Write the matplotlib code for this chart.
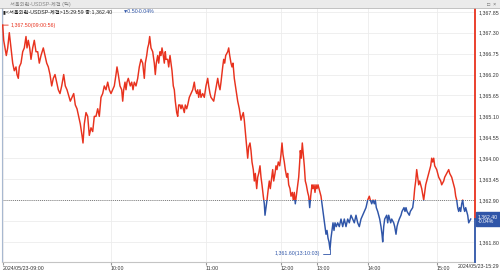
import matplotlib
matplotlib.use('Agg')
import matplotlib.pyplot as plt
from matplotlib.patches import Rectangle
from matplotlib.ticker import FuncFormatter

plt.rcParams['font.family'] = ['Liberation Sans', 'Noto Sans CJK KR', 'DejaVu Sans']

# trade sequence number (x position on the tick chart) and traded price
seq = [
    # 09:00 - 10:00
    1.7, 2.7, 4, 5.3, 6.7, 8.3, 10, 11.7, 13.3, 15, 16, 17.3, 18.3, 20, 21.7, 23.3, 25, 26, 27.3, 28.7,
    30, 31.7, 33.3, 35, 36.7, 38.3, 40, 42.3, 44, 45.7, 47.3, 49, 50.7, 52.3, 54, 55.7, 57.3, 59, 60.7, 62.7,
    64.3, 66, 69.3, 71, 72.7, 74.3, 76, 77.7, 79.3, 81, 82, 83.3, 85, 86.7, 88.3, 90, 91.7, 93.3, 95, 96.7,
    98.3, 100, 101.7, 103.3, 105, 106.7, 108.3,
    # 10:00 - 11:00
    110, 111.7, 113.3, 115, 116, 117.3, 119, 120.7, 121.7, 122.7, 124, 125, 126, 127.3, 129.3, 130.7, 132, 133.3, 135, 136.7,
    138.3, 140, 141.7, 143.3, 144.3, 145.7, 146.7, 147.7, 148.7, 150, 151.7, 153.3, 154.3, 155.3, 156.7, 157.7, 159, 160, 161, 162.3,
    163.3, 164.3, 165, 166.7, 167.7, 169, 170, 171, 172.3, 173.3, 174.3, 175.7, 176.7, 177.7, 179, 180, 181, 182.3, 183.3, 184.3,
    185.7, 186.7, 188.3, 190, 191.7, 193.3, 194.3, 195.7, 196.7, 197.7, 199, 200, 201.7, 203.3,
    # 11:00 - 12:00
    205, 206.7, 207.7, 209, 210, 212.7, 214, 215.3, 216.7, 218, 219, 220, 221.7, 222.7, 223.7, 224.7, 226.7, 227.7, 228.7, 230,
    231, 232, 233.3, 235, 236.7, 238.3, 240,
    241, 242.3, 243.3, 244.3, 245.3, 246.7, 247.7, 249, 250, 251, 252.3, 253.3, 254.3, 255.7, 256.7, 257.7, 259, 260, 261, 262.3,
    263.3, 264, 265, 266, 267.3, 268.3, 269.3, 270.7, 271.7, 272.7, 274, 275, 276, 277.3, 278.7,
    # 12:00 - 13:00
    280, 281, 282, 283.3, 284.3, 285.7, 286.7, 287.7, 289, 290, 291.3, 292.3, 293.3, 294.3, 295.3, 296.7, 297.7, 298.7, 299.3, 300.3,
    301.3, 302.3, 303.3, 304.3, 305.3, 306.7, 307.7, 308.7, 309.7, 311, 312, 313, 314, 315,
    # 13:00 - 14:00
    316, 317, 318, 319, 320, 321, 322, 323, 324, 325, 326, 327, 328, 329, 330, 331, 332, 333, 334, 335.3,
    336.7, 338.3, 340,
    341.7, 343.3, 345, 346.7, 348.3, 350, 351.7, 353.3, 355, 356.7, 358.3, 360, 361.7, 363.3, 365,
    # 14:00 - 15:00
    366.7, 368.3, 369.3, 370.7, 372, 373.3, 374.3, 375.3, 376.7, 378.7, 380, 381, 381.7, 382.7, 383.7, 385.7, 386.7, 387.7, 388.7, 389.7,
    390.7, 392.7, 393.7, 395, 396, 397, 398.3, 400, 401, 403, 404, 405, 406, 408.3, 409.3, 411.7, 412.7, 413.7, 414.7, 415.7,
    416.7, 417.7, 418.7, 419.7, 420.7, 422, 422.7, 423.7, 424.7, 426.7, 427.7, 428.7, 429.7, 430.7, 431.7, 432.7, 433.7,
    # 15:00 - 15:29
    435.7, 436.7, 437.7, 439.7, 440.7, 442.7, 443.7, 445.7, 447.7, 448.7, 450.7, 452.7, 453.7, 454.7, 455.7, 456.7, 457.7, 458.7,
    459.7, 460.7, 461.7, 462.7, 463.7, 464.7, 465.7, 466.7, 467.7, 469.7,
]
price = [
    1367.5, 1367.1, 1366.9, 1366.7, 1366.9, 1367.3, 1366.9, 1366.5, 1366.3, 1366.4, 1366.2, 1366.1, 1366.4, 1366.5, 1366.8, 1366.9, 1367.2, 1366.9, 1367.1, 1366.9,
    1366.6, 1366.9, 1367.1, 1366.8, 1366.8, 1366.5, 1366.7, 1366.9, 1366.7, 1366.5, 1366.4, 1366.2, 1365.9, 1366.1, 1366.2, 1366.0, 1365.8, 1365.7, 1365.9, 1366.2,
    1365.9, 1365.8, 1365.5, 1365.6, 1365.7, 1365.4, 1365.3, 1365.1, 1364.9, 1364.6, 1364.4, 1364.9, 1365.2, 1365.1, 1364.6, 1364.8, 1364.7, 1365.1, 1365.1, 1365.3,
    1365.1, 1365.6, 1365.7, 1365.9, 1365.8, 1366.0, 1365.8,
    1365.7, 1365.8, 1365.9, 1366.2, 1366.4, 1366.2, 1365.9, 1365.8, 1365.5, 1365.8, 1366.0, 1365.8, 1366.0, 1366.1, 1365.9, 1366.0, 1365.8, 1366.0, 1365.9, 1366.1,
    1366.4, 1366.6, 1366.5, 1366.1, 1366.5, 1366.7, 1366.9, 1367.0, 1367.2, 1366.9, 1366.8, 1366.5, 1366.2, 1366.5, 1366.7, 1366.5, 1366.8, 1366.7, 1366.9, 1366.7,
    1366.5, 1366.8, 1366.6, 1366.6, 1366.4, 1366.7, 1366.5, 1366.3, 1365.9, 1365.8, 1365.5, 1365.2, 1365.1, 1365.4, 1365.4, 1365.3, 1365.4, 1365.3, 1365.2, 1365.4,
    1365.3, 1365.4, 1365.6, 1365.7, 1365.8, 1366.0, 1365.8, 1365.7, 1365.8, 1365.6, 1365.8, 1365.6, 1365.7, 1365.6,
    1365.9, 1366.1, 1365.9, 1365.7, 1365.6, 1365.5, 1365.7, 1365.9, 1366.1, 1365.9, 1365.8, 1366.0, 1366.4, 1366.6, 1366.5, 1366.7, 1366.8, 1366.9, 1366.7, 1366.5,
    1366.4, 1366.5, 1366.1, 1365.8, 1365.5, 1365.3, 1365.0,
    1365.1, 1365.2, 1365.0, 1364.7, 1364.4, 1364.0, 1364.3, 1364.4, 1364.2, 1363.9, 1363.7, 1363.4, 1363.6, 1363.2, 1363.5, 1363.6, 1363.8, 1363.5, 1363.3, 1363.0,
    1362.8, 1362.5, 1362.7, 1362.9, 1363.2, 1363.4, 1363.2, 1363.5, 1363.7, 1363.4, 1363.6, 1363.8, 1363.7, 1363.9, 1363.8,
    1364.1, 1364.4, 1364.1, 1363.9, 1363.7, 1363.5, 1363.6, 1363.3, 1363.2, 1363.0, 1363.1, 1362.9, 1363.1, 1362.8, 1363.0, 1363.3, 1363.5, 1363.9, 1364.2, 1364.0,
    1364.4, 1364.1, 1363.8, 1363.4, 1363.3, 1363.1, 1363.0, 1362.7, 1363.0, 1363.3, 1363.2, 1363.3, 1363.1, 1363.3,
    1363.2, 1363.3, 1363.2, 1363.1, 1363.0, 1362.8, 1362.6, 1362.4, 1362.2, 1362.0, 1362.1, 1361.9, 1361.8, 1361.6, 1361.9, 1362.1, 1362.3, 1362.1, 1362.3, 1362.2,
    1362.3, 1362.2, 1362.4,
    1362.2, 1362.4, 1362.2, 1362.4, 1362.3, 1362.5, 1362.4, 1362.3, 1362.5, 1362.3, 1362.2, 1362.4, 1362.5, 1362.6, 1362.7,
    1362.9, 1363.0, 1362.9, 1362.8, 1362.9, 1362.8, 1362.9, 1362.7, 1362.6, 1362.4, 1362.2, 1362.0, 1361.8, 1362.2, 1362.4, 1362.5, 1362.3, 1362.5, 1362.4, 1362.3,
    1362.4, 1362.3, 1362.2, 1362.0, 1362.2, 1362.3, 1362.4, 1362.5, 1362.6, 1362.7, 1362.6, 1362.7, 1362.6, 1362.5, 1362.6, 1362.7, 1362.9, 1363.2, 1363.4, 1363.7,
    1363.5, 1363.3, 1363.4, 1363.3, 1363.2, 1363.0, 1362.9, 1363.1, 1363.3, 1363.5, 1363.6, 1363.7, 1363.8, 1364.0, 1363.9, 1364.0, 1363.8,
    1363.7, 1363.6, 1363.5, 1363.4, 1363.3, 1363.4, 1363.5, 1363.6, 1363.7, 1363.6, 1363.5, 1363.3, 1363.2, 1363.0, 1362.9, 1362.7, 1362.6, 1362.7,
    1362.6, 1362.8, 1362.9, 1362.7, 1362.6, 1362.7, 1362.6, 1362.5, 1362.3, 1362.4,
]

ref_price = 1362.90      # dotted reference level, colour switch
last_price = 1362.40
change = '▼0.50'
change_pct = '-0.04%'
max_time = '09:00:56'
min_time = '13:10:03'
time_ticks = [1.7, 110, 205, 280, 316, 366.7, 435.7]
time_labels = ['2024/05/23-09:00', '10:00', '11:00', '12:00', '13:00', '14:00', '15:00']
end_label = '2024/05/23-15:29'
y_ticks = [1361.80, 1362.35, 1362.90, 1363.45, 1364.00, 1364.55,
           1365.10, 1365.65, 1366.20, 1366.75, 1367.30, 1367.85]
hidden_tick = 1362.35    # covered by the last-price box

RED = '#e8321e'
BLUE = '#2f55a8'
FS = 3.8
W, H = 500, 271

fig = plt.figure(figsize=(W / 100, H / 100), dpi=100)
ax = fig.add_axes([2 / W, 9 / H, 473 / W, 254 / H])
x0, x1 = 1, 474
y0, y1 = 1361.27, 1367.95
ax.set_xlim(x0, x1)
ax.set_ylim(y0, y1)

# grid
ax.set_yticks(y_ticks)
ax.set_xticks(time_ticks, time_labels)
ax.grid(True, color='#ececec', lw=0.6)
ax.set_axisbelow(True)

# price line: red above reference, blue below
up, = ax.plot(seq, price, color=RED, lw=1.05, zorder=3)
dn, = ax.plot(seq, price, color=BLUE, lw=1.05, zorder=3)
up.set_clip_path(Rectangle((x0, ref_price), x1 - x0, y1 - ref_price, transform=ax.transData))
dn.set_clip_path(Rectangle((x0, y0), x1 - x0, ref_price - y0, transform=ax.transData))
ax.axhline(ref_price, color='#555555', lw=0.6, ls=(0, (1, 1.5)), zorder=2)

# high / low labels
imax = price.index(max(price))
imin = price.index(min(price))
ax.annotate(f'{price[imax]:,.2f}({max_time})', xy=(seq[imax], price[imax]),
            xytext=(6, 0), textcoords='offset points', ha='left', va='center',
            size=FS, color=RED,
            arrowprops=dict(arrowstyle='-', color=RED, lw=0.6, shrinkA=0, shrinkB=0))
ax.annotate(f'{price[imin]:,.2f}({min_time})', xy=(seq[imin], price[imin]),
            xytext=(-7, -3), textcoords='offset points', ha='right', va='center',
            size=FS, color=BLUE,
            arrowprops=dict(arrowstyle='-', color=BLUE, lw=0.6, shrinkA=0, shrinkB=0,
                            connectionstyle='angle,angleA=0,angleB=90,rad=0'))

# axes styling
for s in ('top', 'right'):
    ax.spines[s].set_visible(False)
ax.spines['left'].set_color('#a8b8d0')
ax.spines['bottom'].set_color('#c4c4c4')
ax.yaxis.tick_right()
ax.yaxis.set_major_formatter(FuncFormatter(
    lambda v, p: '' if abs(v - hidden_tick) < 1e-6 else f'{v:,.2f}'))
ax.tick_params(axis='y', length=0, pad=2.5, labelsize=FS, labelcolor='#333333')
ax.tick_params(axis='x', length=2, pad=1, labelsize=FS, labelcolor='#333333', color='#999999')
for lab in ax.get_xticklabels():
    lab.set_ha('left')

# right edge bar coloured around the last price
yt = ax.get_yaxis_transform()
ax.plot([1, 1], [last_price, y1], transform=yt, color=RED, lw=1.3, clip_on=False, zorder=4)
ax.plot([1, 1], [y0, last_price], transform=yt, color=BLUE, lw=1.3, clip_on=False, zorder=4)
ax.annotate(f'{last_price:,.2f}\n{change_pct}', xy=(1, last_price), xycoords=yt,
            xytext=(2.2, 0), textcoords='offset points', ha='left', va='center',
            size=3.7, color='white', linespacing=1.1, annotation_clip=False, zorder=5,
            bbox=dict(boxstyle='square,pad=0.4', fc=BLUE, ec=BLUE))
fig.text(0.998, 1 - 264 / H, end_label, ha='right', va='top', size=FS, color='#333333')

# window title bar and info line
fig.patches.append(Rectangle((0, 1 - 8 / H), 1, 8 / H, transform=fig.transFigure,
                             fc='#ebebeb', ec='none', zorder=0))
fig.add_artist(plt.Line2D([0, 1], [1 - 8 / H] * 2, transform=fig.transFigure,
                          color='#b8b8b8', lw=0.6))
fig.text(10 / W, 1 - 4 / H, '서울외환-USDSP-체결 (틱)', ha='left', va='center',
         size=FS, color='#888888')
fig.text(1 - 4 / W, 1 - 4 / H, '□  ×', ha='right', va='center', size=FS, color='#666666')
fig.text(3 / W, 1 - 11.5 / H, '▮<서울외환-USDSP-체결>15:29:59 종:1,362.40', ha='left',
         va='center', size=FS, color='#222222', zorder=6)
fig.text(123 / W, 1 - 11.5 / H, change, ha='left', va='center', size=FS, color=BLUE, zorder=6)
fig.text(138 / W, 1 - 11.5 / H, change_pct, ha='left', va='center', size=FS, color=BLUE, zorder=6)

fig.savefig('out.png', dpi=100)
